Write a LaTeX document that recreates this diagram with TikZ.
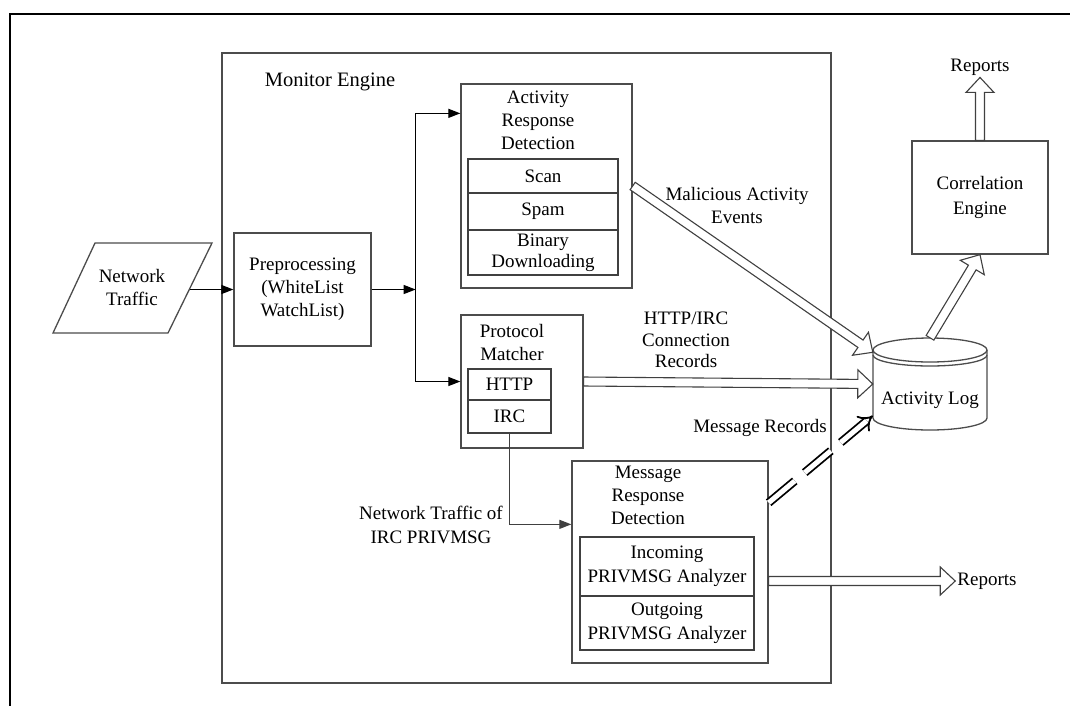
\documentclass[tikz,border=0pt]{standalone}
\usepackage{fontspec}
\setmainfont{Liberation Serif}
\usetikzlibrary{arrows.meta,calc}

% hollow block arrow from #2 to #3
\newcommand\hollowarrow[3][]{%
  \coordinate (hb) at ($(#3)!15pt!(#2)$);
  \draw[harrow,#1] ($(#2)!4.5pt!90:(#3)$) -- ($(hb)!4.5pt!90:(#3)$)
    -- ($(hb)!14pt!90:(#3)$) -- (#3) -- ($(hb)!14pt!-90:(#3)$)
    -- ($(hb)!4.5pt!-90:(#3)$) -- ($(#2)!4.5pt!-90:(#3)$) -- cycle;
}

\begin{document}
\begin{tikzpicture}[x=1pt,y=-1pt,%
  every node/.style = {font=\fontsize{19pt}{23pt}\selectfont},
  % common options for boxes:
  block/.style = {draw=black!70, line width=1.3pt, inner sep=0, align=center},
  % common options for the table cells:
  cell/.style = {draw=black!75, line width=1.3pt, inner sep=0, align=center},
  outline/.style = {draw=black!70, line width=1.3pt},
  txt/.style = {align=center, inner sep=2pt},
  harrow/.style = {draw=black!75, line width=1.1pt, fill=white, line join=miter},
  dblarrow/.style = {draw=black, double=white, double distance=5pt, line width=1.8pt,
              dash pattern=on 34pt off 13pt, -{Implies}},
  >={Triangle[length=12pt,width=9pt]}]
  \useasboundingbox (0,0) rectangle (1070,705);
  \draw[line width=2pt] (10,710) -- (10,14) -- (1075,14);
  % monitor engine
  \node[block, minimum width=609pt, minimum height=630pt] (ME) at (526.5,368) {};
  \node[txt, font=\fontsize{20.5pt}{24pt}\selectfont] (MEt) at (330,82) {Monitor Engine};
  % input
  \draw[outline] (95,243) -- (212,243) -- (168,333) -- (53,333) -- cycle;
  \node[txt] (NT) at (132,287) {Network\\Traffic};
  \coordinate (NTout) at (190,289.5);
  \node[block, minimum width=137pt, minimum height=113pt] (PP) at (302.5,289.5) {Preprocessing\\(WhiteList\\WatchList)};
  \coordinate (sp) at ($(PP.east)+(44,0)$);
  % activity response detection
  \node[block, minimum width=171pt, minimum height=204pt] (ARD) at (546.5,186) {};
  \node[txt] (ARDt) at (538,120) {Activity\\Response\\Detection};
  \node[cell, minimum width=150pt, minimum height=34pt] (Scan) at (543,176) {Scan};
  \node[cell, minimum width=150pt, minimum height=37pt] (Spam) at (543,211.5) {Spam};
  \node[cell, minimum width=150pt, minimum height=45pt, font=\fontsize{19pt}{21pt}\selectfont] (Bin) at (543,252.5) {Binary\\Downloading};
  \coordinate (ARDin) at ($(ARD.north west)+(0,30)$);
  % protocol matcher
  \node[block, minimum width=122pt, minimum height=133pt] (PM) at (522,381.5) {};
  \node[txt] (PMt) at (512,342) {Protocol\\Matcher};
  \node[cell, minimum width=83pt, minimum height=31pt] (HTTP) at (509.5,384.5) {HTTP};
  \node[cell, minimum width=83pt, minimum height=33pt] (IRC) at (509.5,416.5) {IRC};
  % message response detection
  \node[block, minimum width=196pt, minimum height=202pt] (MRD) at (670,562) {};
  \node[txt] (MRDt) at (648,495) {Message\\Response\\Detection};
  \node[cell, minimum width=174pt, minimum height=59pt, font=\fontsize{19pt}{24pt}\selectfont] (Inc) at (667,566.5) {Incoming\\PRIVMSG Analyzer};
  \node[cell, minimum width=174pt, minimum height=54pt, font=\fontsize{19pt}{24pt}\selectfont] (Out) at (667,623) {Outgoing\\PRIVMSG Analyzer};
  \coordinate (MRDin) at ($(MRD.north west)+(0,64)$);
  % activity log
  \draw[outline] (873,350) -- (873,418) arc[start angle=180, end angle=360, x radius=57pt, y radius=12pt] -- (987,350);
  \draw[outline] (930,350) ellipse [x radius=57pt, y radius=12pt];
  \draw[outline] (873,355) arc[start angle=180, end angle=360, x radius=57pt, y radius=11pt];
  \node[txt, minimum width=114pt, minimum height=92pt, text height=44pt, text depth=4pt, inner sep=0] (AL) at (930,384) {Activity Log};
  % correlation engine
  \node[block, minimum width=136pt, minimum height=113pt, font=\fontsize{19pt}{25pt}\selectfont] (CE) at (980,197.5) {Correlation\\Engine};
  \node[txt] (Rep1) at (980,67) {Reports};
  \node[txt] (Rep2) at (987,581) {Reports};
  \coordinate (RepT) at (MRD.east |- Rep2.west);
  % labels
  \node[txt] (lblMal) at (737,205) {Malicious Activity\\Events};
  \node[txt, font=\fontsize{19pt}{21.5pt}\selectfont] (lblCon) at (686,340) {HTTP/IRC\\Connection\\Records};
  \node[txt] (lblMsg) at (760,428) {Message Records};
  \node[txt, font=\fontsize{19pt}{24pt}\selectfont] (lblIRC) at (431,525) {Network Traffic of\\IRC PRIVMSG};
  % connectors
  \draw[->, line width=1.2pt] (NTout) -- (PP.west);
  \draw[->, line width=1.2pt] (PP.east) -- (sp);
  \draw[->, line width=1.2pt] (sp) |- (ARDin);
  \draw[->, line width=1.2pt] (sp) |- (PM.west);
  \draw[->, line width=1.2pt, draw=black!75] (IRC.south) |- (MRDin);
  \hollowarrow{ARD.east}{AL.151}
  \hollowarrow{PM.east}{AL.west}
  \hollowarrow{AL.north}{CE.south}
  \hollowarrow{CE.north}{Rep1.south}
  \hollowarrow{RepT}{Rep2.west}
  \draw[dblarrow] (MRD.31) -- (AL.209);
\end{tikzpicture}
\end{document}
